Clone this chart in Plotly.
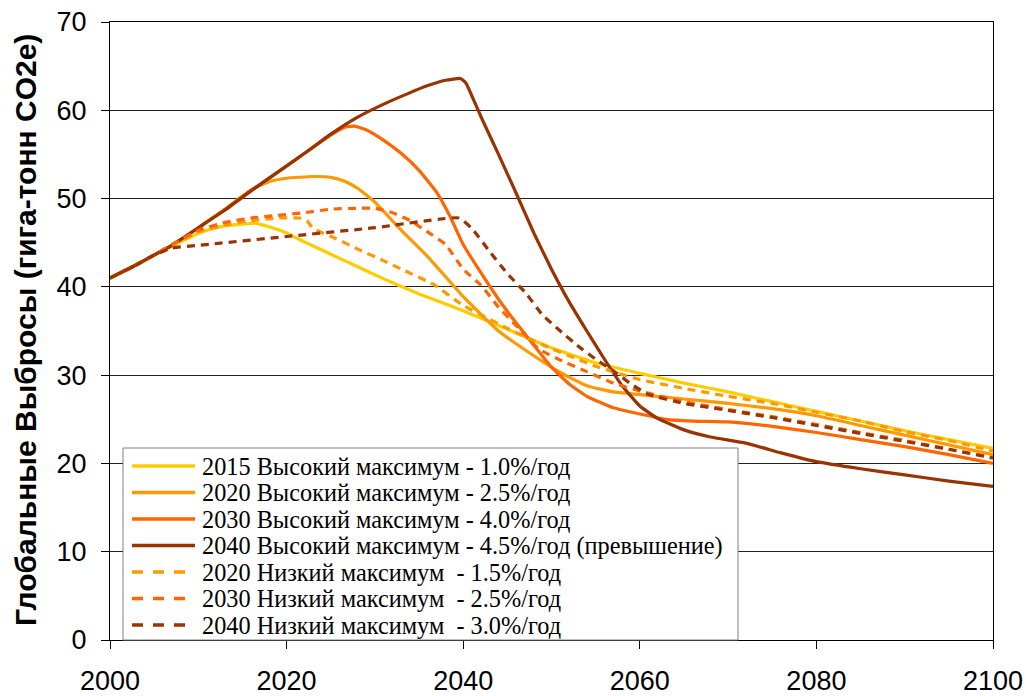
import plotly.graph_objects as go

# ---------------- data ----------------
names = [
    "2015 Высокий максимум - 1.0%/год",
    "2020 Высокий максимум - 2.5%/год",
    "2030 Высокий максимум - 4.0%/год",
    "2040 Высокий максимум - 4.5%/год (превышение)",
    "2020 Низкий максимум  - 1.5%/год",
    "2030 Низкий максимум  - 2.5%/год",
    "2040 Низкий максимум  - 3.0%/год",
]
y_title = "Глобальные Выбросы (гига-тонн CO2e)"

years_2015_high = [2000, 2003, 2005, 2007, 2009, 2011, 2013, 2015, 2016.5, 2018, 2020, 2022, 2025, 2028,
                   2031, 2035, 2040, 2045, 2050, 2055, 2060, 2065, 2070, 2075, 2080, 2085, 2090, 2095, 2100]
vals_2015_high = [41.0, 42.5, 43.6, 44.6, 45.6, 46.4, 46.9, 47.1, 47.2, 46.8, 46.1, 45.1, 43.7, 42.3,
                  40.9, 39.2, 37.3, 35.2, 33.1, 31.4, 30.2, 29.1, 28.1, 27.0, 25.9, 24.8, 23.7, 22.7, 21.7]

years_2020_high = [2000, 2003, 2005, 2007, 2010, 2013, 2016, 2018, 2020, 2023, 2025, 2026.5, 2028, 2030,
                   2032.8, 2036, 2040, 2044, 2048, 2051, 2054, 2057, 2060, 2065, 2070, 2075, 2080, 2085,
                   2090, 2095, 2100]
vals_2020_high = [41.0, 42.5, 43.6, 44.7, 46.7, 48.8, 51.0, 51.9, 52.3, 52.5, 52.4, 52.0, 51.2, 49.6,
                  46.6, 43.4, 38.9, 35.0, 32.2, 30.3, 28.8, 28.1, 27.8, 27.3, 26.8, 26.2, 25.4, 24.3,
                  23.2, 22.1, 21.0]

years_2030_high = [2000, 2003, 2005, 2007, 2010, 2013, 2016, 2019, 2022, 2024, 2025.5, 2026.7, 2027.7,
                   2029, 2031, 2033, 2035, 2037, 2038.5, 2040, 2042, 2044, 2046, 2048, 2050, 2052, 2054,
                   2057, 2060, 2063, 2066, 2070, 2075, 2080, 2085, 2090, 2095, 2100]
vals_2030_high = [41.0, 42.5, 43.6, 44.7, 46.7, 48.7, 50.9, 53.0, 55.1, 56.5, 57.5, 58.1, 58.2,
                  57.8, 56.6, 55.1, 53.2, 50.7, 48.0, 44.8, 41.6, 38.6, 35.9, 33.4, 30.9, 29.0, 27.6,
                  26.3, 25.6, 25.0, 24.8, 24.7, 24.2, 23.5, 22.7, 21.9, 21.0, 20.0]

years_2040_high = [2000, 2003, 2005, 2007, 2010, 2013, 2016, 2019, 2022, 2025, 2028, 2031, 2034, 2036,
                   2038, 2039.7, 2040.3, 2042, 2044, 2046, 2048, 2050, 2052, 2054, 2056, 2058, 2060,
                   2062, 2065, 2068, 2072, 2076, 2080, 2085, 2090, 2095, 2100]
vals_2040_high = [41.0, 42.5, 43.6, 44.7, 46.7, 48.7, 50.9, 53.0, 55.1, 57.3, 59.2, 60.7, 62.0, 62.8,
                  63.4, 63.6, 63.1, 59.3, 55.0, 50.6, 46.1, 42.0, 38.3, 35.0, 31.8, 28.8, 26.5,
                  25.1, 23.8, 23.0, 22.3, 21.2, 20.2, 19.4, 18.7, 18.0, 17.4]

years_2020_low = [2000, 2003, 2005, 2007, 2010, 2013, 2016, 2019, 2021.5, 2022.3, 2023, 2025.3, 2028,
                  2030.9, 2033, 2036.6, 2040, 2045, 2050, 2055, 2060, 2065, 2070, 2075, 2080, 2085,
                  2090, 2095, 2100]
vals_2020_low = [41.0, 42.5, 43.6, 44.7, 46.2, 47.0, 47.5, 47.8, 47.8, 47.5, 46.6, 45.6, 44.3,
                 43.0, 42.0, 40.3, 37.9, 35.3, 33.0, 31.0, 29.5, 28.5, 27.6, 26.8, 25.8, 24.8,
                 23.6, 22.6, 21.4]

years_2030_low = [2000, 2003, 2005, 2007, 2010, 2013, 2016, 2019, 2022, 2025, 2028, 2030, 2032, 2034,
                  2036, 2038, 2040, 2042, 2044, 2046, 2048.5, 2051, 2054, 2057, 2060, 2065, 2070, 2075,
                  2080, 2085, 2090, 2095, 2100]
vals_2030_low = [41.0, 42.5, 43.6, 44.8, 46.4, 47.3, 47.8, 48.1, 48.4, 48.8, 48.9, 48.9, 48.4, 47.5,
                 46.2, 44.8, 42.0, 40.2, 37.7, 35.6, 33.0, 31.7, 30.4, 29.1, 28.2, 27.0, 26.1, 25.3,
                 24.4, 23.5, 22.6, 21.6, 20.7]

years_2040_low = [2000, 2003, 2005, 2007, 2010, 2020, 2030, 2039.5, 2041, 2043, 2045, 2047, 2049, 2051,
                  2053, 2055, 2057, 2059, 2061, 2065, 2070, 2075, 2080, 2085, 2090, 2095, 2100]
vals_2040_low = [41.0, 42.5, 43.6, 44.4, 44.7, 45.7, 46.7, 47.8, 46.6, 44.0, 41.5, 39.4, 36.8, 35.0,
                 33.3, 31.8, 30.5, 29.0, 27.8, 26.8, 26.0, 25.2, 24.3, 23.4, 22.5, 21.6, 20.6]

y_ticks = [0, 10, 20, 30, 40, 50, 60, 70]
x_ticks = [2000, 2020, 2040, 2060, 2080, 2100]

# ---------------- styles ----------------
series = [
    (years_2015_high, vals_2015_high, "#FFCC00", "solid"),
    (years_2020_high, vals_2020_high, "#FF9900", "solid"),
    (years_2030_high, vals_2030_high, "#FF6600", "solid"),
    (years_2040_high, vals_2040_high, "#993300", "solid"),
    (years_2020_low, vals_2020_low, "#FF9900", "8px,6px"),
    (years_2030_low, vals_2030_low, "#FF6600", "8px,6px"),
    (years_2040_low, vals_2040_low, "#993300", "8px,6px"),
]

W, H = 1026, 696
ML, MT = 110, 22
PW, PH = 883, 618
MR, MB = W - ML - PW, H - MT - PH


def px_x(px):
    return (px - ML) / PW


def px_y(py):
    return (MT + PH - py) / PH


fig = go.Figure()
for name, (xs, ys, col, dash) in zip(names, series):
    fig.add_trace(go.Scatter(
        x=xs, y=ys, name=name, mode="lines", showlegend=False,
        line=dict(color=col, width=3.2, dash=dash, shape="spline", smoothing=0.4),
    ))

# ---------------- manual legend (box, samples, labels) ----------------
shapes = [dict(type="rect", xref="paper", yref="paper",
               x0=px_x(123), x1=px_x(738), y0=px_y(448), y1=px_y(640),
               line=dict(color="#808080", width=1), fillcolor="white", layer="above")]
annotations = []
row0, rowstep = 466, 26.5
for i, (name, (_, _, col, dash)) in enumerate(zip(names, series)):
    yc = px_y(row0 + i * rowstep)
    shapes.append(dict(type="line", xref="paper", yref="paper",
                       x0=px_x(132), x1=px_x(195), y0=yc, y1=yc, layer="above",
                       line=dict(color=col, width=3.5,
                                 dash="solid" if dash == "solid" else "11px,10px")))
    annotations.append(dict(xref="paper", yref="paper", x=px_x(200), y=yc,
                            xanchor="left", yanchor="middle", showarrow=False,
                            text=name.replace("  ", "\u00a0 "),
                            font=dict(family="Liberation Serif, Times New Roman, serif",
                                      size=24.3, color="black")))

# y-axis title as rotated text
annotations.append(dict(xref="paper", yref="paper", x=px_x(25), y=px_y(330),
                        xanchor="center", yanchor="middle", showarrow=False, textangle=-90,
                        text="<b>" + y_title + "</b>",
                        font=dict(family="Liberation Sans, Arial, sans-serif", size=30,
                                  color="black")))

fig.update_layout(
    width=W, height=H,
    margin=dict(l=ML, r=MR, t=MT, b=MB),
    paper_bgcolor="white", plot_bgcolor="white",
    showlegend=False,
    shapes=shapes, annotations=annotations,
    xaxis=dict(
        range=[2000, 2100], tickvals=x_ticks, showgrid=False, zeroline=False,
        showline=True, linecolor="black", linewidth=1, mirror=True,
        ticks="outside", ticklen=8, tickcolor="black", automargin=False,
        tickfont=dict(family="Liberation Sans, Arial, sans-serif", size=27, color="black"),
        ticklabelstandoff=9, ticklabeloverflow="allow",
    ),
    yaxis=dict(
        range=[0, 70], tickvals=y_ticks, showgrid=True, gridcolor="#222222", gridwidth=1,
        zeroline=False, showline=True, linecolor="black", linewidth=1, mirror=True,
        ticks="outside", ticklen=8, tickcolor="black", automargin=False,
        tickfont=dict(family="Liberation Sans, Arial, sans-serif", size=27, color="black"),
        ticklabelstandoff=9, ticklabeloverflow="allow",
    ),
)

# remove the browser's default page margin so the figure fills the window exactly
fig.write_html("out.html",
               config={"displayModeBar": False},
               post_script="document.body.style.margin='0';document.body.style.overflow='hidden';")
